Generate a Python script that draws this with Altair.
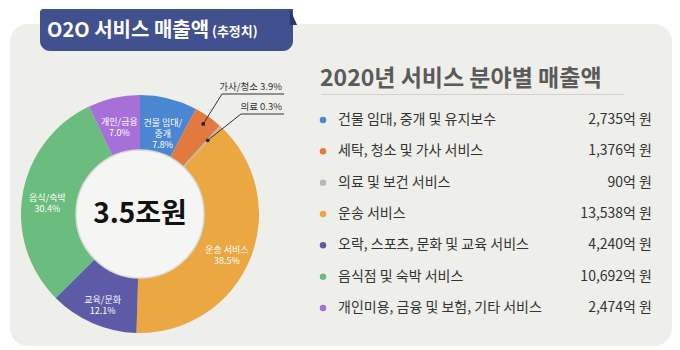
import math
import altair as alt
import pandas as pd

F = "Noto Sans CJK KR"

# ---- data ----
categories = [
    "건물 임대, 중개 및 유지보수",
    "세탁, 청소 및 가사 서비스",
    "의료 및 보건 서비스",
    "운송 서비스",
    "오락, 스포츠, 문화 및 교육 서비스",
    "음식점 및 숙박 서비스",
    "개인미용, 금융 및 보험, 기타 서비스",
]
values = [2735, 1376, 90, 13538, 4240, 10692, 2474]  # 억 원
short_labels = ["건물 임대/\n중개", "가사/청소", "의료", "운송 서비스", "교육/문화", "음식/숙박", "개인/금융"]
pct_labels = ["7.8%", "3.9%", "0.3%", "38.5%", "12.1%", "30.4%", "7.0%"]
colors = ["#4a86d2", "#e27a40", "#b8b8b8", "#eaa742", "#5d5aa7", "#6abd7e", "#a770d8"]
callout_idx = [1, 2]

title_badge = "O2O 서비스 매출액"
title_badge_sub = "(추정치)"
legend_title = "2020년 서비스 분야별 매출액"

# ---- geometry ----
CX, CY = 140, 214
R_OUT, R_IN = 119, 64
LABEL_R = 94

total = sum(values)
df = pd.DataFrame({
    "idx": list(range(len(categories))),
    "cat": categories,
    "value": values,
    "inside": ["" if i in callout_idx else f"{s}\n{p}" for i, (s, p) in enumerate(zip(short_labels, pct_labels))],
    "value_label": [f"{v:,}억 원" for v in values],
})
one = pd.DataFrame({"k": [0]})

color_scale = alt.Scale(domain=categories, range=colors)
y_leg = alt.Y("cat:N", sort=categories,
              scale=alt.Scale(type="point", domain=categories, range=[120, 308], padding=0),
              axis=None)

layers = []

# background panel
layers.append(alt.Chart(one).mark_rect(color="#eeeeea", cornerRadius=18).encode(
    x=alt.value(10), x2=alt.value(672), y=alt.value(24), y2=alt.value(346)))

# title badge
layers.append(alt.Chart(one).mark_rect(color="#41508f", cornerRadiusTopLeft=3,
                                       cornerRadiusBottomLeft=10, cornerRadiusBottomRight=10).encode(
    x=alt.value(40), x2=alt.value(293), y=alt.value(9), y2=alt.value(51)))
layers.append(alt.Chart(one).mark_point(shape="M-0.45,-1L0.45,1L-0.45,1Z", filled=True, size=256,
                                        color="#2c386a", opacity=1).encode(
    x=alt.value(293.5), y=alt.value(17)))
layers.append(alt.Chart(one).mark_text(text=title_badge, font=F, fontSize=20, fontWeight="bold",
                                       color="white", align="left", baseline="alphabetic").encode(
    x=alt.value(47), y=alt.value(37)))
layers.append(alt.Chart(one).mark_text(text=title_badge_sub, font=F, fontSize=13, fontWeight="bold",
                                       color="white", align="left", baseline="alphabetic").encode(
    x=alt.value(212), y=alt.value(36)))

# donut
layers.append(alt.Chart(df).mark_arc(innerRadius=R_IN, outerRadius=R_OUT).encode(
    theta=alt.Theta("value:Q", stack=True),
    color=alt.Color("cat:N", scale=color_scale, legend=None),
    order=alt.Order("idx:Q"),
    x=alt.value(CX), y=alt.value(CY)))
layers.append(alt.Chart(one).mark_arc(radius=R_IN, theta=0, theta2=2 * math.pi,
                                      color="#f5f5f3", stroke="#d9d9d5", strokeWidth=1.5).encode(
    x=alt.value(CX), y=alt.value(CY)))
layers.append(alt.Chart(df).mark_text(radius=LABEL_R, lineBreak="\n", font=F, fontSize=9,
                                      color="white", lineHeight=11).encode(
    theta=alt.Theta("value:Q", stack=True),
    text="inside:N",
    detail="cat:N",
    order=alt.Order("idx:Q"),
    x=alt.value(CX), y=alt.value(CY)))
layers.append(alt.Chart(one).mark_text(text=f"{total / 10000:.1f}조원", font=F, fontSize=28,
                                       fontWeight="bold", color="#111111").encode(
    x=alt.value(CX), y=alt.value(CY + 1)))

# callouts for thin slices
cum = 0
mids = []
for v in values:
    mids.append((cum + v / 2) / total)
    cum += v
call_specs = [  # (index, dot radius, leader end x, underline y)
    (1, 110, 222, 94),
    (2, 100, 241, 114),
]
for i, r, lx, uy in call_specs:
    a = 2 * math.pi * mids[i]
    dx = CX + r * math.sin(a)
    dy = CY - r * math.cos(a)
    txt = f"{short_labels[i]} {pct_labels[i]}"
    layers.append(alt.Chart(one).mark_rule(color="#333333", strokeWidth=1).encode(
        x=alt.value(dx), y=alt.value(dy), x2=alt.value(lx), y2=alt.value(uy)))
    layers.append(alt.Chart(one).mark_rule(color="#333333", strokeWidth=1).encode(
        x=alt.value(lx), y=alt.value(uy), x2=alt.value(284), y2=alt.value(uy)))
    layers.append(alt.Chart(one).mark_circle(color="#222222", size=14, opacity=1).encode(
        x=alt.value(dx), y=alt.value(dy)))
    layers.append(alt.Chart(one).mark_text(text=txt, font=F, fontSize=9.5, color="#333333",
                                           align="right", baseline="alphabetic").encode(
        x=alt.value(282), y=alt.value(uy - 4)))

# legend
layers.append(alt.Chart(one).mark_text(text=legend_title, font=F, fontSize=23, fontWeight="bold",
                                       color="#5a5a5a", align="left", baseline="middle").encode(
    x=alt.value(320), y=alt.value(79)))
layers.append(alt.Chart(one).mark_rule(color="#d0d0cc", strokeWidth=1).encode(
    x=alt.value(321), x2=alt.value(624), y=alt.value(94.5)))
layers.append(alt.Chart(df).mark_circle(size=42, opacity=1).encode(
    x=alt.value(323), y=y_leg, color=alt.Color("cat:N", scale=color_scale, legend=None)))
layers.append(alt.Chart(df).mark_text(font=F, fontSize=14, color="#333333", align="left",
                                      baseline="middle").encode(
    x=alt.value(338), y=y_leg, text="cat:N"))
layers.append(alt.Chart(df).mark_text(font=F, fontSize=14, color="#333333", align="right",
                                      baseline="middle").encode(
    x=alt.value(652), y=y_leg, text="value_label:N"))

chart = alt.layer(*layers).properties(
    width=680, height=350, padding=0, autosize=alt.AutoSizeParams(type="none"),
    background="white",
).configure_view(stroke=None)

chart.save("out.html", embed_options={"renderer": "svg", "actions": False})
